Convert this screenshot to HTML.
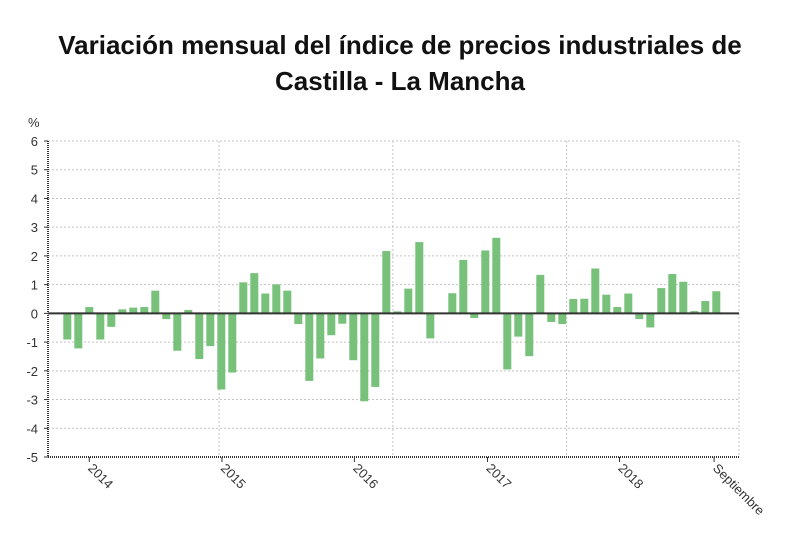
<!DOCTYPE html>
<html><head><meta charset="utf-8"><style>
body{margin:0;background:#fff;width:800px;height:539px;overflow:hidden;font-family:"Liberation Sans",sans-serif}
</style></head><body>
<svg width="800" height="539">
<text x="400" y="54" text-anchor="middle" font-size="26" font-weight="bold" fill="#111">Variación mensual del índice de precios industriales de</text>
<text x="400" y="90" text-anchor="middle" font-size="26" font-weight="bold" fill="#111">Castilla - La Mancha</text>
<text x="28" y="127" font-size="13" fill="#333">%</text>
<g id="grid"></g><g id="bars"></g><g id="axes"></g>
</svg>
<script>
const values=[-0.91,-1.22,0.22,-0.91,-0.47,0.14,0.2,0.22,0.79,-0.2,-1.3,0.12,-1.59,-1.14,-2.65,-2.06,1.08,1.4,0.69,1.01,0.79,-0.37,-2.35,-1.57,-0.76,-0.36,-1.63,-3.06,-2.56,2.17,0.07,0.86,2.48,-0.87,0.02,0.7,1.86,-0.16,2.19,2.63,-1.95,-0.81,-1.49,1.34,-0.3,-0.37,0.5,0.51,1.56,0.65,0.22,0.69,-0.2,-0.49,0.88,1.37,1.1,0.08,0.43,0.77];
const yTicks=[6,5,4,3,2,1,0,-1,-2,-3,-4,-5];
const xLabels=["2014","2015","2016","2017","2018","Septiembre"];
const xLabelIdx=[2,14.06,26.1,38.2,50.2,58.8];
const vGridIdx=[13.8,29.6,45.4];
const NS="http://www.w3.org/2000/svg";
const L=48,R=739,T=141,B=457,yMin=-5,yMax=6;
const y=v=>T+(yMax-v)/(yMax-yMin)*(B-T);
const x0=67.3,step=11.0;
const x=i=>x0+i*step;
function mk(t,a,p){const e=document.createElementNS(NS,t);for(const k in a)e.setAttribute(k,a[k]);p.appendChild(e);return e;}
const grid=document.getElementById('grid'),bars=document.getElementById('bars'),axes=document.getElementById('axes');
yTicks.forEach(v=>{
  if(v!==yMin&&v!==0){const g=mk('line',{x1:L,x2:R,y1:y(v),y2:y(v),stroke:'#c4c4c4','stroke-dasharray':'2,2'},grid);
  
  }
  const t=mk('text',{x:38,y:y(v)+5,'text-anchor':'end','font-size':13,fill:'#333'},axes);t.textContent=v;
  
  
  mk('line',{x1:L-4,x2:L,y1:y(v),y2:y(v),stroke:'#333'},axes);
});
vGridIdx.forEach(i=>{const g=mk('line',{x1:x(i),x2:x(i),y1:T,y2:B,stroke:'#c4c4c4','stroke-dasharray':'2,2'},grid);
  
  });
mk('line',{x1:R,x2:R,y1:T,y2:B,stroke:'#c4c4c4','stroke-dasharray':'2,2'},grid);
values.forEach((v,i)=>{
  const b=mk('rect',{x:x(i)-4,y:Math.min(y(v),y(0)),width:8,height:Math.abs(y(v)-y(0)),fill:'#77c17a'},bars);
  
  
});
mk('line',{x1:L,x2:R,y1:y(0),y2:y(0),stroke:'#333','stroke-width':2},axes);
mk('line',{x1:L,x2:L,y1:T,y2:B,stroke:'#333','stroke-width':2,'stroke-dasharray':'1,1'},axes);
mk('line',{x1:L,x2:R,y1:B,y2:B,stroke:'#333','stroke-width':2,'stroke-dasharray':'1,1'},axes);
xLabels.forEach((s,k)=>{
  const xx=x(xLabelIdx[k]);
  mk('line',{x1:xx,x2:xx,y1:B,y2:B+5,stroke:'#333'},axes);
  const t=mk('text',{x:xx-2,y:B+12,'font-size':13,fill:'#333',transform:`rotate(45 ${xx-2} ${B+12})`},axes);
  t.textContent=s;
  
  
});
</script>
</body></html>
